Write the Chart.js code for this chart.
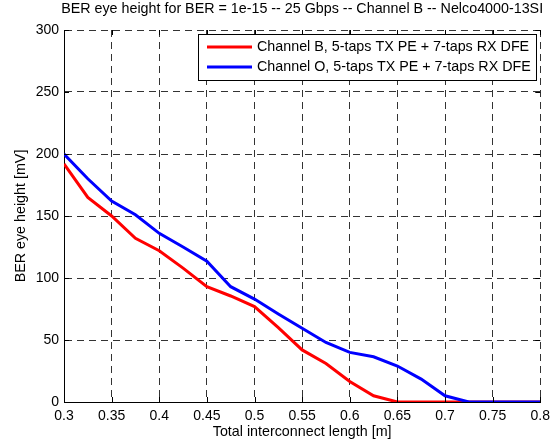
<!DOCTYPE html>
<html>
<head>
<meta charset="utf-8">
<script src="https://cdn.jsdelivr.net/npm/chart.js@4.4.1/dist/chart.umd.min.js"></script>
<style>
  html, body { margin: 0; padding: 0; background: #fff; }
  #wrap { width: 556px; height: 445px; }
</style>
</head>
<body>
<div id="wrap"><canvas id="eyeChart" width="556" height="445"></canvas></div>
<script>
// Eye height vs. interconnect length, two channels
const lengths = [0.3, 0.325, 0.35, 0.375, 0.4, 0.425, 0.45, 0.475, 0.5, 0.525, 0.55,
                 0.575, 0.6, 0.625, 0.65, 0.675, 0.7, 0.725, 0.75, 0.775, 0.8];
const channelB = [192, 165, 150, 132, 122, 108, 93, 85.5, 77, 60, 42,
                  31, 16.5, 5, 0, 0, 0, 0, 0, 0, 0];
const channelO = [200, 180, 162, 151, 136, 125, 113.5, 93, 83, 71, 59.5,
                  48, 40, 36.5, 29, 18.5, 5, 0, 0, 0, 0];
const seriesLabels = [
    'Channel B, 5-taps TX PE + 7-taps RX DFE',
    'Channel O, 5-taps TX PE + 7-taps RX DFE'
];
const xTicks = [0.3, 0.35, 0.4, 0.45, 0.5, 0.55, 0.6, 0.65, 0.7, 0.75, 0.8];
const yTicks = [0, 50, 100, 150, 200, 250, 300];

const chartTitle = 'BER eye height for BER = 1e-15 -- 25 Gbps -- Channel B -- Nelco4000-13SI';
const xTitle = 'Total interconnect length [m]';
const yTitle = 'BER eye height [mV]';

const FONT = "'Liberation Sans', Arial, Helvetica, sans-serif";

// Title, axis labels, inward ticks and boxed legend, MATLAB style
const decorPlugin = {
    id: 'decor',
    afterDraw(chart) {
        const ctx = chart.ctx;
        const area = chart.chartArea;
        const xs = chart.scales.x, ys = chart.scales.y;
        ctx.save();

        // inward tick marks on all four sides
        ctx.strokeStyle = '#000';
        ctx.lineWidth = 1;
        ctx.beginPath();
        xTicks.forEach(v => {
            const px = Math.round(xs.getPixelForValue(v)) + 0.5;
            ctx.moveTo(px, area.bottom); ctx.lineTo(px, area.bottom - 5);
            ctx.moveTo(px, area.top); ctx.lineTo(px, area.top + 5);
        });
        yTicks.forEach(v => {
            const py = Math.round(ys.getPixelForValue(v)) + 0.5;
            ctx.moveTo(area.left, py); ctx.lineTo(area.left + 5, py);
            ctx.moveTo(area.right, py); ctx.lineTo(area.right - 5, py);
        });
        ctx.stroke();

        ctx.fillStyle = '#000';
        ctx.font = '14.3px ' + FONT;
        ctx.textAlign = 'center';
        ctx.textBaseline = 'middle';
        ctx.fillText(chartTitle, (area.left + area.right) / 2, 9);
        ctx.fillText(xTitle, (area.left + area.right) / 2, 432);

        ctx.save();
        ctx.translate(21, (area.top + area.bottom) / 2);
        ctx.rotate(-Math.PI / 2);
        ctx.fillText(yTitle, 0, 0);
        ctx.restore();

        // legend box
        const lx = 198.5, ly = 34.5, lw = 338, lh = 46;
        ctx.fillStyle = '#fff';
        ctx.fillRect(lx, ly, lw, lh);
        ctx.strokeStyle = '#000';
        ctx.lineWidth = 1;
        ctx.strokeRect(lx, ly, lw, lh);
        chart.data.datasets.forEach((ds, i) => {
            const ry = 47 + i * 20;
            ctx.strokeStyle = ds.borderColor;
            ctx.lineWidth = 3;
            ctx.beginPath();
            ctx.moveTo(207, ry);
            ctx.lineTo(252, ry);
            ctx.stroke();
            ctx.fillStyle = '#000';
            ctx.textAlign = 'left';
            ctx.fillText(ds.label, 257, ry);
        });
        ctx.restore();
    }
};

const ctx = document.getElementById('eyeChart').getContext('2d');
const eyeChart = new Chart(ctx, {
    type: 'line',
    data: {
        labels: lengths,
        datasets: [
            {
                label: seriesLabels[0],
                data: lengths.map((x, i) => ({ x: x, y: channelB[i] })),
                borderColor: '#ff0000',
                borderWidth: 3,
                pointRadius: 0,
                tension: 0,
                order: 1
            },
            {
                label: seriesLabels[1],
                data: lengths.map((x, i) => ({ x: x, y: channelO[i] })),
                borderColor: '#0000ff',
                borderWidth: 3,
                pointRadius: 0,
                tension: 0,
                order: 0
            }
        ]
    },
    options: {
        responsive: false,
        animation: false,
        events: [],
        layout: { padding: { top: 30, right: 14, left: 0, bottom: 0 } },
        plugins: {
            legend: { display: false },
            title: { display: false },
            tooltip: { enabled: false }
        },
        scales: {
            x: {
                type: 'linear',
                min: 0.3,
                max: 0.8,
                afterBuildTicks: scale => { scale.ticks = xTicks.map(v => ({ value: v })); },
                afterFit: scale => { scale.height = 43; },
                ticks: {
                    padding: 6,
                    color: '#000',
                    font: { family: FONT, size: 14 },
                    maxRotation: 0,
                    callback: v => String(parseFloat(v.toFixed(2)))
                },
                grid: { color: '#333', drawTicks: false, lineWidth: 1 },
                border: { display: true, color: '#000', width: 1, dash: [7, 5] }
            },
            y: {
                min: 0,
                max: 300,
                afterBuildTicks: scale => { scale.ticks = yTicks.map(v => ({ value: v })); },
                afterFit: scale => { scale.width = 64; },
                ticks: {
                    padding: 5,
                    color: '#000',
                    font: { family: FONT, size: 14 }
                },
                grid: { color: '#333', drawTicks: false, lineWidth: 1 },
                border: { display: true, color: '#000', width: 1, dash: [7, 5] }
            }
        }
    },
    plugins: [decorPlugin]
});
</script>
</body>
</html>
